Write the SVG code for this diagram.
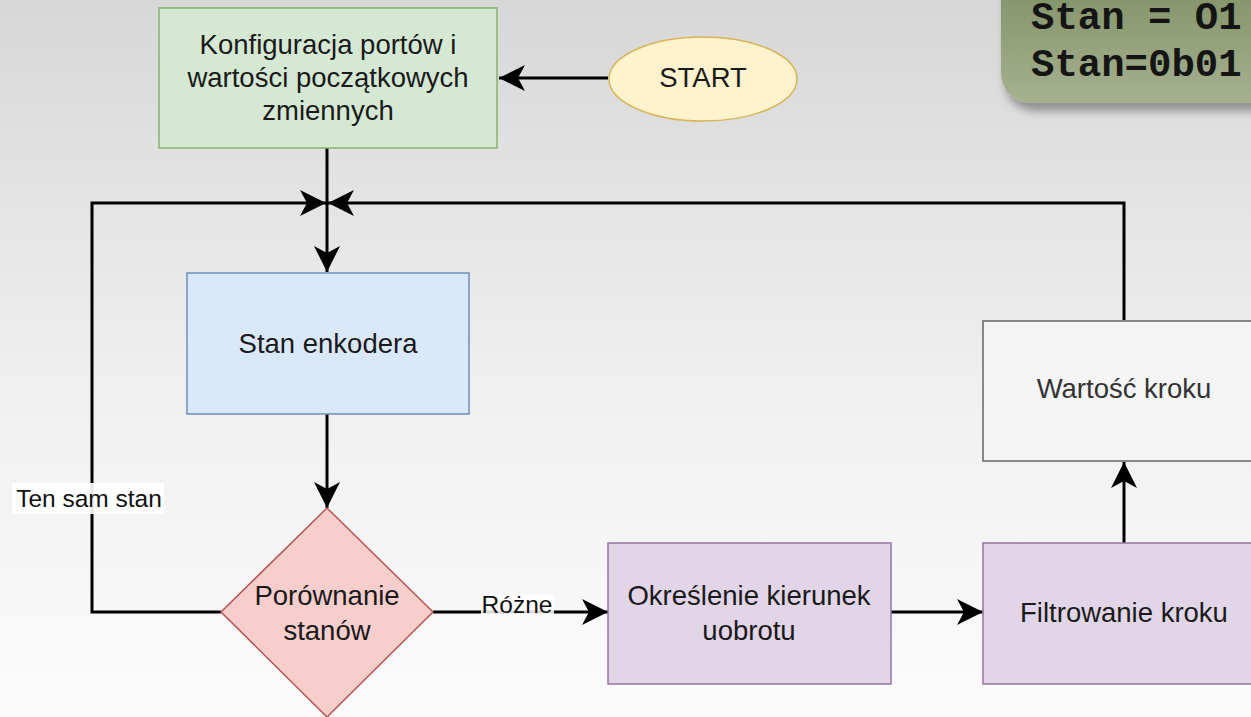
<svg xmlns="http://www.w3.org/2000/svg" width="1251" height="717" viewBox="0 0 1251 717">
  <defs>
    <linearGradient id="bg" x1="0" y1="0" x2="0" y2="1">
      <stop offset="0" stop-color="#d7d7d7"/>
      <stop offset="0.55" stop-color="#f0f0f0"/>
      <stop offset="1" stop-color="#fbfbfb"/>
    </linearGradient>
    <linearGradient id="code" x1="0" y1="0" x2="0" y2="1">
      <stop offset="0" stop-color="#7b8c5f"/>
      <stop offset="1" stop-color="#a6b190"/>
    </linearGradient>
    <filter id="sh" x="-20%" y="-20%" width="140%" height="160%">
      <feDropShadow dx="4" dy="8" stdDeviation="5" flood-color="#000" flood-opacity="0.35"/>
    </filter>
    <marker id="arr" viewBox="0 0 26 26" refX="26" refY="13" markerWidth="26" markerHeight="26" markerUnits="userSpaceOnUse" orient="auto">
      <path d="M0,0 L26,13 L0,26 L7,13 Z" fill="#000"/>
    </marker>
  </defs>
  <style>
    .t { font-family: "Liberation Sans", Arial, sans-serif; font-size: 27.5px; fill: #1a1a1a; text-anchor: middle; }
    .lbl { font-family: "Liberation Sans", Arial, sans-serif; font-size: 24.5px; fill: #111; text-anchor: middle; }
    .code { font-family: "Liberation Mono", "Courier New", monospace; font-size: 39px; font-weight: bold; fill: #151515; }
    .edge { fill: none; stroke: #000; stroke-width: 3; }
  </style>
  <rect x="0" y="0" width="1251" height="717" fill="url(#bg)"/>

  <g id="code-box">
    <rect x="1001" y="-40" width="300" height="143" rx="30" fill="url(#code)" filter="url(#sh)"/>
    <text class="code" x="1031" y="29">Stan = O1</text>
    <text class="code" x="1031" y="76">Stan=0b01</text>
  </g>

  <g id="connectors">
    <path class="edge" d="M608,78 H499" marker-end="url(#arr)"/>
    <path class="edge" d="M327,148 V272" marker-end="url(#arr)"/>
    <path class="edge" d="M327,414 V508" marker-end="url(#arr)"/>
    <path class="edge" d="M221,612 H92 V203 H326" marker-end="url(#arr)"/>
    <path class="edge" d="M1124,320 V203 H328" marker-end="url(#arr)"/>
    <path class="edge" d="M433,612 H608" marker-end="url(#arr)"/>
    <path class="edge" d="M891,612 H983" marker-end="url(#arr)"/>
    <path class="edge" d="M1124,543 V462" marker-end="url(#arr)"/>
    <rect x="12" y="483" width="152" height="31" fill="#ffffff" opacity="0.9"/>
    <text class="lbl" x="89" y="507">Ten sam stan</text>
    <rect x="481" y="595" width="73" height="21" fill="#ffffff" opacity="0.85"/>
    <text class="lbl" x="517" y="613">Różne</text>
  </g>

  <g id="config">
    <rect x="159" y="8" width="338" height="140" fill="#d5e8d4" stroke="#82b366" stroke-width="1.5"/>
    <text class="t" x="328" y="54">Konfiguracja portów i</text>
    <text class="t" x="328" y="87">wartości początkowych</text>
    <text class="t" x="328" y="120">zmiennych</text>
  </g>

  <g id="start">
    <ellipse cx="703" cy="79" rx="94" ry="42" fill="#fff2cc" stroke="#d6b656" stroke-width="1.5"/>
    <text class="t" x="703" y="87">START</text>
  </g>

  <g id="stan-enkodera">
    <rect x="187" y="273" width="282" height="141" fill="#dae8fc" stroke="#6c8ebf" stroke-width="1.5"/>
    <text class="t" x="328" y="353">Stan enkodera</text>
  </g>

  <g id="porownanie">
    <polygon points="327,508 433,612 327,717 221,612" fill="#f8cecc" stroke="#b85450" stroke-width="1.5"/>
    <text class="t" x="327" y="605">Porównanie</text>
    <text class="t" x="327" y="640">stanów</text>
  </g>

  <g id="okreslenie">
    <rect x="608" y="543" width="283" height="141" fill="#e1d5e7" stroke="#9673a6" stroke-width="1.5"/>
    <text class="t" x="749" y="605">Określenie kierunek</text>
    <text class="t" x="749" y="640">uobrotu</text>
  </g>

  <g id="filtrowanie">
    <rect x="983" y="543" width="282" height="141" fill="#e1d5e7" stroke="#9673a6" stroke-width="1.5"/>
    <text class="t" x="1124" y="622">Filtrowanie kroku</text>
  </g>

  <g id="wartosc">
    <rect x="983" y="321" width="282" height="140" fill="#f5f5f5" stroke="#666666" stroke-width="1.5"/>
    <text class="t" x="1124" y="398" style="fill:#333333">Wartość kroku</text>
  </g>
</svg>
